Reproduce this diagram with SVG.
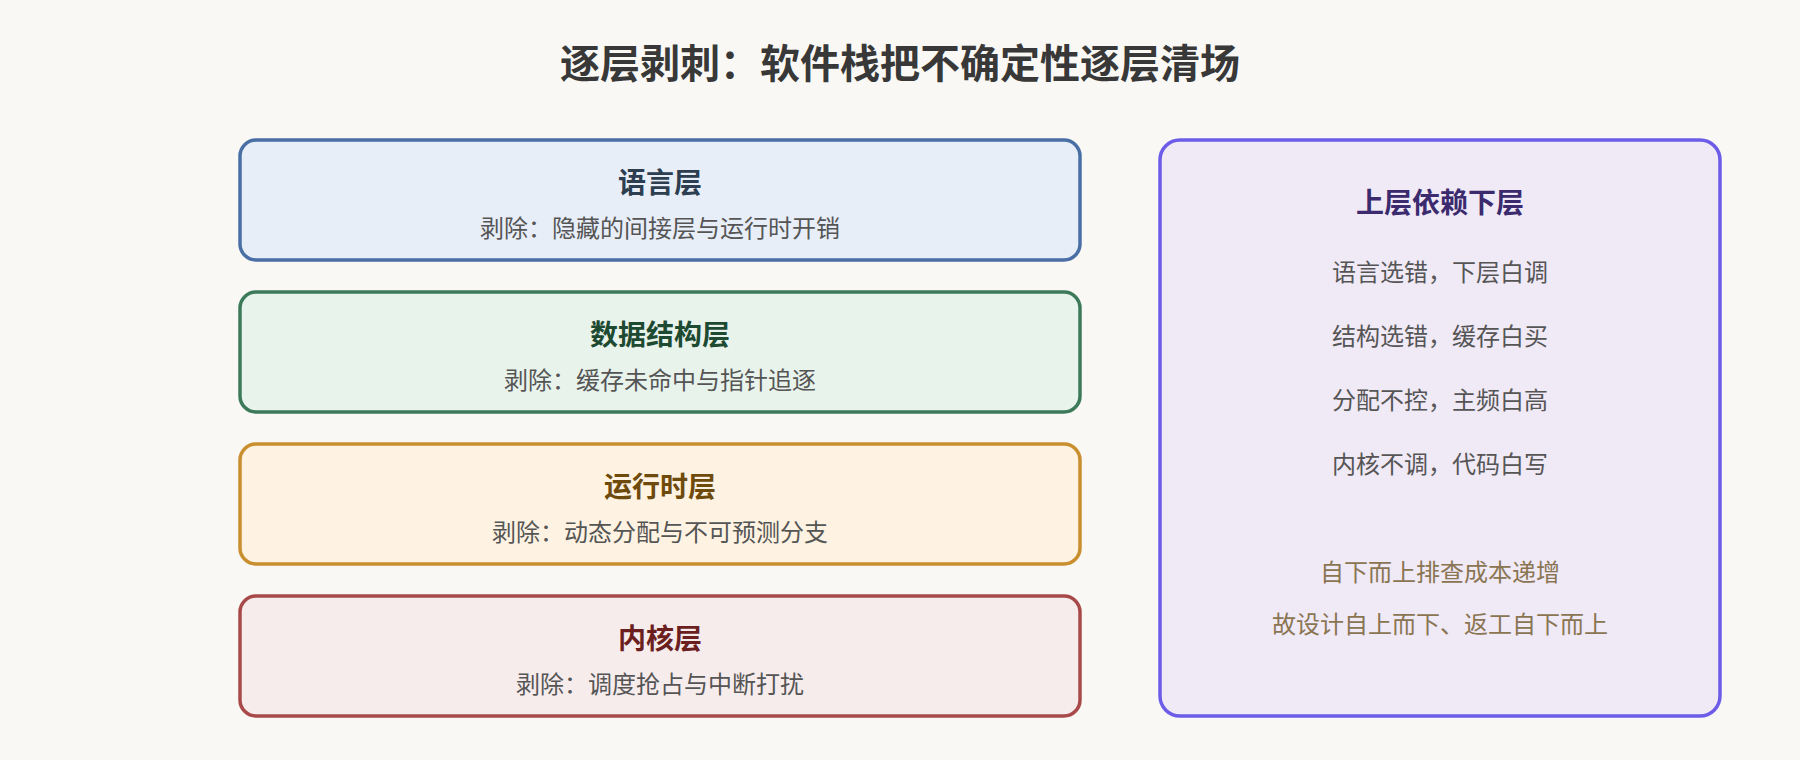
<svg xmlns="http://www.w3.org/2000/svg" width="1800" height="760" viewBox="0 0 1800 760">
<style>
  .bg { fill: #f9f8f5; }
  .card { stroke-width: 3.5; }
  .ttl { font-family: "Noto Sans CJK SC", "Noto Sans", sans-serif; font-weight: 700; font-size: 28px; text-anchor: middle; }
  .sub { font-family: "Noto Sans CJK SC", "Noto Sans", sans-serif; font-size: 24px; fill: #555555; text-anchor: middle; }
  .main { font-family: "Noto Sans CJK SC", "Noto Sans", sans-serif; font-weight: 700; font-size: 40px; fill: #383838; text-anchor: middle; }
  .note { font-family: "Noto Sans CJK SC", "Noto Sans", sans-serif; font-size: 24px; fill: #8a7552; text-anchor: middle; }
</style>
<rect class="bg" x="0" y="0" width="1800" height="760"/>
<text class="main" x="900" y="78">逐层剥刺：软件栈把不确定性逐层清场</text>
<g id="connectors"></g>
<g id="lang">
  <rect class="card" x="240" y="140" width="840" height="120" rx="16" fill="#e8eef8" stroke="#4a6fa5"/>
  <text class="ttl" x="660" y="193" fill="#2c3e50">语言层</text>
  <text class="sub" x="660" y="237">剥除：隐藏的间接层与运行时开销</text>
</g>
<g id="ds">
  <rect class="card" x="240" y="292" width="840" height="120" rx="16" fill="#e8f3ec" stroke="#3d7a5a"/>
  <text class="ttl" x="660" y="345" fill="#1e4a32">数据结构层</text>
  <text class="sub" x="660" y="389">剥除：缓存未命中与指针追逐</text>
</g>
<g id="runtime">
  <rect class="card" x="240" y="444" width="840" height="120" rx="16" fill="#fef3e2" stroke="#c98f2e"/>
  <text class="ttl" x="660" y="497" fill="#6e4a0c">运行时层</text>
  <text class="sub" x="660" y="541">剥除：动态分配与不可预测分支</text>
</g>
<g id="kernel">
  <rect class="card" x="240" y="596" width="840" height="120" rx="16" fill="#f7ecec" stroke="#a84a4a"/>
  <text class="ttl" x="660" y="649" fill="#6b1f1f">内核层</text>
  <text class="sub" x="660" y="693">剥除：调度抢占与中断打扰</text>
</g>
<g id="depend">
  <rect class="card" x="1160" y="140" width="560" height="576" rx="20" fill="#f0e9f6" stroke="#6c5ce7"/>
  <text class="ttl" x="1440" y="213" fill="#3b2a6e">上层依赖下层</text>
  <text class="sub" x="1440" y="281">语言选错，下层白调</text>
  <text class="sub" x="1440" y="345">结构选错，缓存白买</text>
  <text class="sub" x="1440" y="409">分配不控，主频白高</text>
  <text class="sub" x="1440" y="473">内核不调，代码白写</text>
  <text class="note" x="1440" y="581">自下而上排查成本递增</text>
  <text class="note" x="1440" y="633">故设计自上而下、返工自下而上</text>
</g>
</svg>
